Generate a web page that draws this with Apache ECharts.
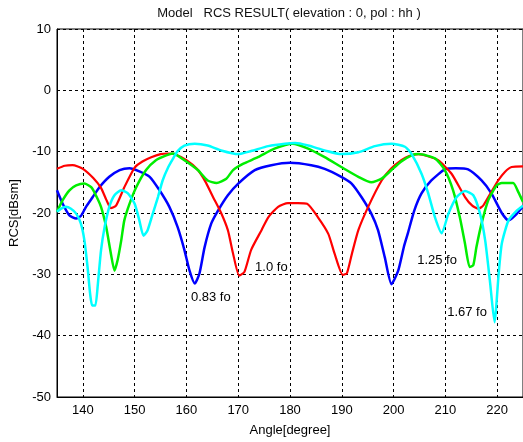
<!DOCTYPE html>
<html>
<head>
<meta charset="utf-8">
<script src="https://cdn.jsdelivr.net/npm/echarts@6/dist/echarts.min.js"></script>
<style>
html,body{margin:0;padding:0;background:#fff;}
#chart{width:523px;height:442px;}
</style>
</head>
<body>
<div id="chart"></div>
<script>
// ---- data ----
var titleText = 'Model   RCS RESULT( elevation : 0, pol : hh )';
var xName = 'Angle[degree]';
var yName = 'RCS[dBsm]';

var blue083 = [[135,-16.3],[136.1,-18.5],[137.4,-20.4],[138.7,-20.9],[139.6,-20.5],[140.6,-19],[141.9,-17.4],[143.2,-15.8],[145.1,-14.1],[147.1,-13],[149,-12.7],[150.9,-13.2],[152.9,-14.1],[154.8,-16.3],[156.7,-19],[158.3,-22.3],[159.6,-26],[160.6,-29.4],[161.6,-31.5],[162.5,-29.9],[163.5,-25.6],[164.8,-21.7],[166.1,-19.6],[168,-17.1],[170,-15.2],[173.2,-13],[176.4,-12.2],[180,-11.8],[184.1,-12.2],[186.7,-12.8],[189.9,-14.1],[191.9,-15.2],[193.8,-17.4],[195.7,-20.1],[197,-22.8],[198.3,-27.2],[199.6,-31.6],[200.9,-29.4],[202,-25.5],[202.8,-23.2],[204,-19.6],[205.4,-16.8],[207.3,-14.7],[209.9,-12.9],[212,-12.7],[214.4,-12.9],[217,-14.7],[218.9,-16.8],[220.9,-20],[222.2,-21.2],[223.5,-20.4],[225,-18.9]];

var red10 = [[135,-12.8],[136.5,-12.3],[138,-12.2],[140,-12.8],[142,-14.3],[143.5,-15.9],[144.5,-17.8],[145.4,-19.2],[146.4,-18.8],[148,-15.8],[150,-12.6],[151.5,-11.6],[153.2,-10.9],[155,-10.4],[156.5,-10.3],[158,-10.5],[160,-11.4],[162,-12.8],[163.6,-14.8],[165.2,-17.5],[166.7,-20],[168,-22.8],[169,-26.6],[170.2,-30.2],[171.2,-29.6],[172.5,-26],[174.5,-22.8],[175.8,-20.7],[177.7,-19],[179.6,-18.4],[181.5,-18.4],[183.3,-18.5],[185.4,-20.7],[187.4,-23.4],[188.6,-26.6],[190.2,-30.1],[191,-29.8],[192,-26.5],[193.2,-22.8],[195.1,-19],[197.7,-14.7],[199.5,-12.8],[201.5,-11.4],[203,-10.7],[204.8,-10.4],[206.5,-10.7],[208.6,-11.4],[211.2,-13.6],[213.8,-17.4],[215.2,-18.8],[216.4,-19.3],[217.3,-18.8],[218.3,-17.4],[220.2,-14.7],[221.5,-13.3],[222.8,-12.5],[225,-12.4]];

var green125 = [[135,-19.8],[136.1,-17.9],[137.4,-16.3],[138.7,-15.5],[140.3,-15.2],[141.6,-15.8],[142.5,-17.1],[143.5,-19],[144.5,-22.3],[145.4,-26.6],[146.1,-29.4],[146.7,-27.7],[147.4,-24.5],[148,-21.2],[149,-18.5],[150.3,-15.8],[152.2,-13],[154.1,-11.4],[156.1,-10.6],[157.4,-10.3],[159.6,-11.4],[162.2,-13],[164.1,-14.7],[165.8,-15.1],[167.7,-14.4],[169,-13],[170.9,-12],[173.8,-10.9],[177,-9.5],[180.5,-8.7],[183.5,-9.5],[186.7,-10.9],[189.9,-12.5],[193.2,-14.1],[195.7,-15],[197.7,-14.4],[199.6,-13],[201.5,-11.6],[203.5,-10.6],[204.8,-10.4],[208,-11.1],[209.9,-13],[211.5,-16.3],[212.8,-20.7],[213.8,-25],[214.7,-28.8],[215.4,-28.5],[216,-25.6],[217,-21.7],[218.3,-17.9],[219.9,-15.5],[220.9,-15.1],[223.1,-15.1],[224.1,-16.6],[225,-18.2]];

var cyan167 = [[135,-19.8],[135.8,-19.3],[136.7,-19],[137.7,-19.3],[138.7,-20.1],[139.6,-21.7],[140.3,-24.5],[140.9,-28.8],[141.4,-33.2],[141.8,-35.1],[142.4,-35.1],[142.9,-31.5],[143.5,-26.1],[144.2,-22.3],[145.1,-19],[146.1,-17.1],[147.4,-16.3],[148.7,-16.8],[150,-18.5],[150.9,-21.2],[151.7,-23.7],[152.5,-22.8],[153.5,-20.1],[154.5,-17.4],[155.4,-14.7],[156.5,-12.5],[157.5,-11],[158.3,-9.9],[159.6,-9],[161.6,-8.7],[164.1,-9],[166.7,-9.8],[170,-10.4],[172.5,-9.9],[175.8,-9.1],[179,-8.7],[181,-8.6],[183.5,-9],[186.7,-9.8],[189.9,-10.4],[193.2,-10.1],[196.4,-9.1],[199.6,-8.7],[202.2,-9.2],[203.5,-10.4],[205.4,-13.6],[206.7,-16.8],[208,-20.7],[209.3,-23.3],[210.6,-20.1],[212.2,-17.4],[213.8,-16.4],[215.4,-17.1],[216.7,-20.1],[217.7,-24.5],[218.6,-31],[219.5,-37.8],[220.3,-29.9],[220.9,-25],[222.2,-21.2],[223.8,-19.6],[225,-18.8]];

var annotations = [
  {text: '0.83 fo', coord: [164.7, -33.8]},
  {text: '1.0 fo',  coord: [176.4, -28.9]},
  {text: '1.25 fo', coord: [208.4, -27.7]},
  {text: '1.67 fo', coord: [214.2, -36.2]}
];

var xMin = 135, xMax = 225;
var yMin = -50, yMax = 10, yStep = 10;

// ---- chart ----
var FONT = 'Liberation Sans, Arial, sans-serif';
var chart = echarts.init(document.getElementById('chart'), null, {renderer: 'canvas'});

function lineSeries(name, data, color, width, z) {
  return {
    name: name, type: 'line', data: data, symbol: 'none', smooth: 0.2,
    lineStyle: {color: color, width: width}, z: z, animation: false
  };
}

var series = [
  lineSeries('0.83 fo', blue083, '#0000ff', 2.5, 2),
  lineSeries('1.0 fo', red10, '#ff0000', 2.2, 3),
  lineSeries('1.25 fo', green125, '#00ee00', 2.5, 4),
  lineSeries('1.67 fo', cyan167, '#00ffff', 2.5, 5)
];
series.push({
  type: 'scatter', data: [], z: 10, animation: false,
  markPoint: {
    symbol: 'circle', symbolSize: 0, animation: false,
    label: {show: true, position: 'inside', color: '#000', fontFamily: FONT, fontSize: 13,
      formatter: function (p) { return p.name; }},
    data: annotations.map(function (a) { return {name: a.text, coord: a.coord}; })
  }
});

chart.setOption({
  backgroundColor: '#fff',
  animation: false,
  title: {
    text: titleText, left: 284, top: 2, textAlign: 'center',
    textStyle: {fontFamily: FONT, fontSize: 13, fontWeight: 'normal', color: '#111'}
  },
  grid: {left: 56, right: 0, top: 29, bottom: 44, show: true, borderColor: '#000', borderWidth: 1, containLabel: false},
  xAxis: {
    type: 'value', min: xMin, max: xMax, splitNumber: 9,
    name: xName, nameLocation: 'middle', nameGap: 27,
    nameTextStyle: {fontFamily: FONT, fontSize: 13, color: '#000'},
    axisLine: {show: true, onZero: false, lineStyle: {color: '#000', width: 1}},
    axisTick: {show: false},
    axisLabel: {showMinLabel: false, showMaxLabel: false, margin: 7, fontFamily: FONT, fontSize: 13, color: '#000'},
    splitLine: {show: true, lineStyle: {color: '#000', type: [3, 3], width: 1}}
  },
  yAxis: {
    type: 'value', min: yMin, max: yMax, interval: yStep,
    name: yName, nameLocation: 'middle', nameGap: 36,
    nameTextStyle: {fontFamily: FONT, fontSize: 13, color: '#000'},
    axisLine: {show: true, onZero: false, lineStyle: {color: '#000', width: 1}},
    axisTick: {show: false},
    axisLabel: {margin: 6, fontFamily: FONT, fontSize: 13, color: '#000'},
    splitLine: {show: true, lineStyle: {color: '#000', type: [3, 3], width: 1}}
  },
  series: series
});
</script>
</body>
</html>
